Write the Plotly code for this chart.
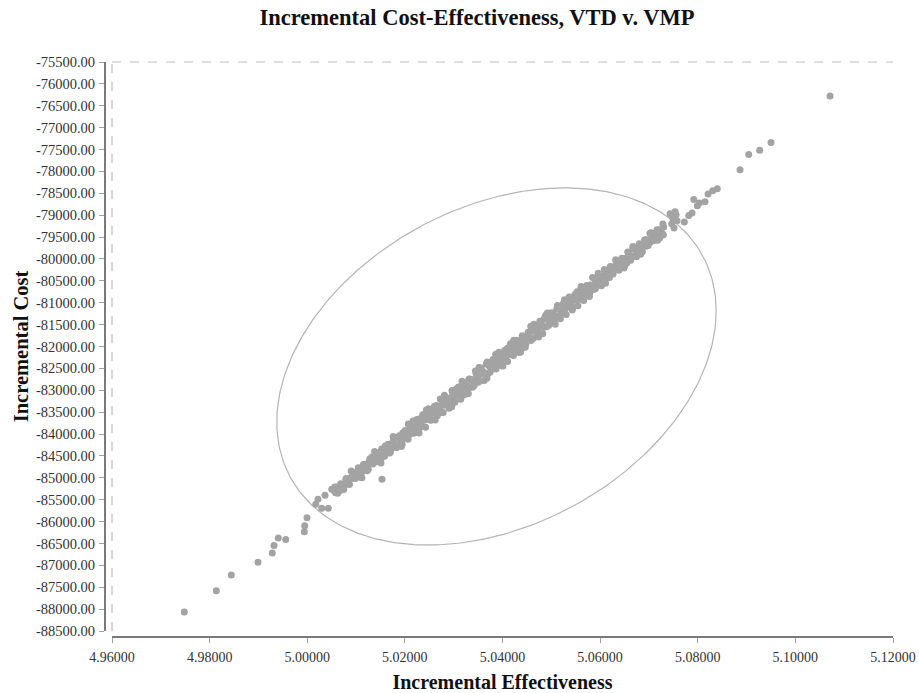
import numpy as np
import plotly.graph_objects as go

# ---------------- data ----------------
# sparse points below/left of the dense band
tail_low_eff = [4.97481, 4.98137, 4.98444, 4.98991, 4.99284, 4.99319, 4.99407, 4.99559,
                4.99940, 4.99948, 4.99995, 5.00173, 5.00220, 5.00296, 5.00431, 5.00364,
                5.00501, 5.01532, 5.02167]
tail_low_cost = [-88066, -87580, -87222, -86932, -86720, -86545, -86378, -86408,
                 -86234, -86097, -85915, -85603, -85488, -85694, -85694, -85397,
                 -85261, -85032, -83703]

# dense band of simulations (core)
band_eff = [
    5.0055, 5.0058, 5.0061, 5.0064, 5.0067, 5.0070, 5.0073, 5.0076, 5.0079, 5.0082,
    5.0085, 5.0088, 5.0091, 5.0094, 5.0097, 5.0100, 5.0103, 5.0106, 5.0109, 5.0112,
    5.0115, 5.0118, 5.0121, 5.0124, 5.0127, 5.0130, 5.0133, 5.0136, 5.0139, 5.0142,
    5.0145, 5.0148, 5.0151, 5.0154, 5.0157, 5.0160, 5.0163, 5.0166, 5.0169, 5.0172,
    5.0175, 5.0178, 5.0181, 5.0184, 5.0187, 5.0190, 5.0193, 5.0196, 5.0199, 5.0202,
    5.0205, 5.0208, 5.0211, 5.0214, 5.0217, 5.0220, 5.0223, 5.0226, 5.0229, 5.0232,
    5.0235, 5.0238, 5.0241, 5.0244, 5.0247, 5.0250, 5.0253, 5.0256, 5.0259, 5.0262,
    5.0265, 5.0268, 5.0271, 5.0274, 5.0277, 5.0280, 5.0283, 5.0286, 5.0289, 5.0292,
    5.0295, 5.0298, 5.0301, 5.0304, 5.0307, 5.0310, 5.0313, 5.0316, 5.0319, 5.0322,
    5.0325, 5.0328, 5.0331, 5.0334, 5.0337, 5.0340, 5.0343, 5.0346, 5.0349, 5.0352,
    5.0355, 5.0358, 5.0361, 5.0364, 5.0367, 5.0370, 5.0373, 5.0376, 5.0379, 5.0382,
    5.0385, 5.0388, 5.0391, 5.0394, 5.0397, 5.0400, 5.0403, 5.0406, 5.0409, 5.0412,
    5.0415, 5.0418, 5.0421, 5.0424, 5.0427, 5.0430, 5.0433, 5.0436, 5.0439, 5.0442,
    5.0445, 5.0448, 5.0451, 5.0454, 5.0457, 5.0460, 5.0463, 5.0466, 5.0469, 5.0472,
    5.0475, 5.0478, 5.0481, 5.0484, 5.0487, 5.0490, 5.0493, 5.0496, 5.0499, 5.0502,
    5.0505, 5.0508, 5.0511, 5.0514, 5.0517, 5.0520, 5.0523, 5.0526, 5.0529, 5.0532,
    5.0535, 5.0538, 5.0541, 5.0544, 5.0547, 5.0550, 5.0553, 5.0556, 5.0559, 5.0562,
    5.0565, 5.0568, 5.0571, 5.0574, 5.0577, 5.0580, 5.0583, 5.0586, 5.0589, 5.0592,
    5.0595, 5.0598, 5.0601, 5.0604, 5.0607, 5.0610, 5.0613, 5.0616, 5.0619, 5.0622,
    5.0625, 5.0628, 5.0631, 5.0634, 5.0637, 5.0640, 5.0643, 5.0646, 5.0649, 5.0652,
    5.0655, 5.0658, 5.0661, 5.0664, 5.0667, 5.0670, 5.0673, 5.0676, 5.0679, 5.0682,
    5.0685, 5.0688, 5.0691, 5.0694, 5.0697, 5.0700, 5.0703, 5.0706, 5.0709, 5.0712,
    5.0715, 5.0718, 5.0721, 5.0724, 5.0727, 5.0730]
band_cost = [
    -85298, -85341, -85210, -85260, -85289, -85150, -85159, -85195, -85028, -85114,
    -85127, -85009, -85014, -84904, -84990, -84872, -84989, -84857, -84807, -84842,
    -84704, -84821, -84739, -84816, -84621, -84674, -84520, -84653, -84554, -84632,
    -84506, -84416, -84570, -84399, -84453, -84273, -84436, -84328, -84436, -84221,
    -84307, -84230, -84084, -84267, -84090, -84133, -84167, -83970, -84073, -83977,
    -83950, -84023, -83847, -83930, -83983, -83796, -83820, -83883, -83656, -83790,
    -83813, -83666, -83680, -83543, -83666, -83519, -83683, -83516, -83459, -83513,
    -83346, -83499, -83403, -83506, -83269, -83342, -83156, -83329, -83212, -83316,
    -83168, -83071, -83245, -83058, -83121, -82924, -83108, -82991, -83114, -82878,
    -82971, -82894, -82748, -82931, -82754, -82797, -82831, -82634, -82737, -82641,
    -82784, -82567, -82581, -82634, -82397, -82620, -82454, -82487, -82350, -82484,
    -82347, -82420, -82244, -82327, -82380, -82193, -82217, -82280, -82053, -82187,
    -82100, -82003, -82177, -81990, -82053, -81856, -82040, -81923, -82046, -81810,
    -81942, -81795, -81809, -81672, -81795, -81648, -81812, -81645, -81588, -81642,
    -81715, -81498, -81512, -81565, -81328, -81551, -81385, -81418, -81281, -81415,
    -81368, -81291, -81145, -81328, -81151, -81194, -81228, -81031, -81134, -81038,
    -80941, -81094, -80998, -81101, -80864, -80937, -80751, -80924, -80807, -80911,
    -80748, -80811, -80650, -80722, -80767, -80596, -80615, -80669, -80462, -80580,
    -80499, -80412, -80557, -80393, -80443, -80271, -80424, -80320, -80421, -80216,
    -80326, -80196, -80205, -80084, -80185, -80055, -80191, -80045, -79992, -80035,
    -80086, -79907, -79913, -79950, -79755, -79928, -79790, -79811, -79696, -79798,
    -79755, -79688, -79566, -79707, -79560, -79589, -79611, -79448, -79525, -79443,
    -79420, -79463, -79332, -79382, -79411, -79272]

# dense band of simulations (outer spread)
band_edge_eff = [
    5.00565, 5.00625, 5.00685, 5.00745, 5.00805, 5.00865, 5.00925, 5.00985, 5.01045, 5.01105,
    5.01165, 5.01225, 5.01285, 5.01345, 5.01405, 5.01465, 5.01525, 5.01585, 5.01645, 5.01705,
    5.01765, 5.01825, 5.01885, 5.01945, 5.02005, 5.02065, 5.02125, 5.02185, 5.02245, 5.02305,
    5.02365, 5.02425, 5.02485, 5.02545, 5.02605, 5.02665, 5.02725, 5.02785, 5.02845, 5.02905,
    5.02965, 5.03025, 5.03085, 5.03145, 5.03205, 5.03265, 5.03325, 5.03385, 5.03445, 5.03505,
    5.03565, 5.03625, 5.03685, 5.03745, 5.03805, 5.03865, 5.03925, 5.03985, 5.04045, 5.04105,
    5.04165, 5.04225, 5.04285, 5.04345, 5.04405, 5.04465, 5.04525, 5.04585, 5.04645, 5.04705,
    5.04765, 5.04825, 5.04885, 5.04945, 5.05005, 5.05065, 5.05125, 5.05185, 5.05245, 5.05305,
    5.05365, 5.05425, 5.05485, 5.05545, 5.05605, 5.05665, 5.05725, 5.05785, 5.05845, 5.05905,
    5.05965, 5.06025, 5.06085, 5.06145, 5.06205, 5.06265, 5.06325, 5.06385, 5.06445, 5.06505,
    5.06565, 5.06625, 5.06685, 5.06745, 5.06805, 5.06865, 5.06925, 5.06985, 5.07045, 5.07105,
    5.07165, 5.07225, 5.07285]
band_edge_cost = [
    -85211, -85350, -85134, -85267, -85015, -85154, -84927, -85017, -84772, -84904,
    -84689, -84840, -84564, -84685, -84487, -84595, -84344, -84506, -84279, -84405,
    -84108, -84311, -84041, -84236, -83918, -84121, -83836, -83974, -83665, -83859,
    -83560, -83847, -83423, -83660, -83366, -83583, -83200, -83506, -83163, -83409,
    -83005, -83272, -82948, -83205, -82821, -83088, -82745, -82931, -82558, -82814,
    -82491, -82778, -82354, -82591, -82297, -82514, -82131, -82437, -82094, -82340,
    -81937, -82204, -81880, -82137, -81753, -82019, -81676, -81862, -81489, -81745,
    -81422, -81709, -81285, -81522, -81228, -81445, -81062, -81368, -81025, -81271,
    -80868, -81135, -80811, -81068, -80684, -80951, -80608, -80794, -80421, -80677,
    -80375, -80612, -80243, -80437, -80178, -80341, -80040, -80257, -79986, -80157,
    -79841, -80029, -79772, -79952, -79650, -79837, -79566, -79693, -79399, -79578,
    -79330, -79515, -79202]

# fringe points that make the band lumpy
band_fringe_eff = [
    5.0090, 5.0112, 5.0138, 5.0151, 5.0176, 5.0193, 5.0207, 5.0229, 5.0244, 5.0262,
    5.0281, 5.0296, 5.0317, 5.0330, 5.0352, 5.0368, 5.0386, 5.0401, 5.0423, 5.0437,
    5.0458, 5.0474, 5.0492, 5.0508, 5.0527, 5.0543, 5.0561, 5.0578, 5.0596, 5.0611,
    5.0632, 5.0649, 5.0667, 5.0683, 5.0702, 5.0718, 5.0125, 5.0165, 5.0218, 5.0253,
    5.0305, 5.0342, 5.0394, 5.0412, 5.0448, 5.0485, 5.0518, 5.0552, 5.0587, 5.0622]
band_fringe_cost = [
    -84844, -84998, -84397, -84661, -84058, -84287, -83772, -83976, -83452, -83682,
    -83113, -83379, -82792, -83076, -82480, -82728, -82177, -82444, -81858, -82123,
    -81536, -81784, -81233, -81490, -80931, -81168, -80628, -80857, -80327, -80553,
    -80016, -80205, -79714, -79892, -79413, -79570, -84802, -84236, -83774, -83672,
    -82979, -82889, -82416, -82026, -81945, -81375, -81311, -80788, -80697, -80175]

# sparse points above/right of the dense band
tail_high_eff = [5.07295, 5.07432, 5.07467, 5.07487, 5.07514, 5.07535, 5.07555, 5.07576,
                 5.07725, 5.07815, 5.07883, 5.07918, 5.07991, 5.08032, 5.08149, 5.08211,
                 5.08307, 5.08401, 5.08866, 5.09044, 5.09270, 5.09501, 5.10710]
tail_high_cost = [-79445, -78966, -79194, -79064, -79292, -78921, -78989, -79126,
                  -79156, -79005, -78950, -78640, -78784, -78722, -78693, -78517,
                  -78442, -78396, -77963, -77614, -77514, -77340, -76275]

# confidence ellipse (centre, half extents along each axis, correlation)
ell_center_eff = 5.03877
ell_center_cost = -82456
ell_half_eff = 0.04501
ell_half_cost = 4080
ell_rho = 0.311

# axes
x_tick_vals = [4.96, 4.98, 5.00, 5.02, 5.04, 5.06, 5.08, 5.10, 5.12]
x_tick_text = ["4.96000", "4.98000", "5.00000", "5.02000", "5.04000",
               "5.06000", "5.08000", "5.10000", "5.12000"]
y_tick_vals = [-75500, -76000, -76500, -77000, -77500, -78000, -78500, -79000, -79500,
               -80000, -80500, -81000, -81500, -82000, -82500, -83000, -83500, -84000,
               -84500, -85000, -85500, -86000, -86500, -87000, -87500, -88000, -88500]
y_tick_text = ["%.2f" % v for v in y_tick_vals]

title_text = "Incremental Cost-Effectiveness, VTD v. VMP"
x_title = "Incremental Effectiveness"
y_title = "Incremental Cost"

# ---------------- figure ----------------
eff = tail_low_eff + band_eff + band_edge_eff + band_fringe_eff + tail_high_eff
cost = tail_low_cost + band_cost + band_edge_cost + band_fringe_cost + tail_high_cost

t = np.linspace(0, 2 * np.pi, 361)
ell_x = ell_center_eff + ell_half_eff * np.cos(t)
ell_y = ell_center_cost + ell_half_cost * (ell_rho * np.cos(t) + np.sqrt(1 - ell_rho ** 2) * np.sin(t))

serif = "Liberation Serif, Times New Roman, serif"

fig = go.Figure()
fig.add_trace(go.Scatter(x=ell_x, y=ell_y, mode="lines",
                         line=dict(color="#b4b4b4", width=1.2), hoverinfo="skip",
                         showlegend=False))
fig.add_trace(go.Scatter(x=eff, y=cost, mode="markers",
                         marker=dict(color="#a3a3a3", size=7, line=dict(width=0)),
                         showlegend=False))

W, H = 919, 693
ml, mr, mt, mb = 105, 26, 62, 56
pw = W - ml - mr
ph = H - mt - mb

fig.update_layout(
    width=W, height=H,
    margin=dict(l=ml, r=mr, t=mt, b=mb, autoexpand=False),
    paper_bgcolor="white", plot_bgcolor="white",
    font=dict(family=serif, color="#333333", size=14),
    title=dict(text="<b>" + title_text + "</b>", x=477 / W, xref="container", xanchor="center",
               y=1 - 9 / H, yref="container", yanchor="top",
               font=dict(family=serif, size=22.5, color="#111111")),
    showlegend=False,
    xaxis=dict(range=[4.96, 5.12], domain=[7 / pw, 1], anchor="free", position=0,
               automargin=False,
               tickvals=x_tick_vals, ticktext=x_tick_text,
               showgrid=False, zeroline=False,
               showline=True, linecolor="#7a7a7a", linewidth=2,
               ticks="outside", ticklen=5, tickcolor="#a0a0a0", tickwidth=1,
               ticklabelstandoff=2,
               tickfont=dict(family=serif, size=14, color="#333333"),
               title=dict(text="<b>" + x_title + "</b>", standoff=10,
                          font=dict(family=serif, size=20, color="#111111"))),
    yaxis=dict(range=[-88500, -75500], domain=[6 / ph, 1], anchor="free", position=0,
               automargin=False,
               tickvals=y_tick_vals, ticktext=y_tick_text,
               showgrid=False, zeroline=False,
               showline=True, linecolor="#7a7a7a", linewidth=2,
               ticks="outside", ticklen=5, tickcolor="#a0a0a0", tickwidth=1,
               ticklabelstandoff=1,
               tickfont=dict(family=serif, size=14.5, color="#333333"),
               title=dict(text="<b>" + y_title + "</b>", standoff=1,
                          font=dict(family=serif, size=20.5, color="#111111"))),
)

# dashed frame lines (left and top edges of the plot area)
fig.add_shape(type="line", xref="x domain", yref="y domain", x0=0, x1=0, y0=0, y1=1,
              line=dict(color="#bdbdbd", width=1.2, dash="dash"))
fig.add_shape(type="line", xref="x domain", yref="y domain", x0=0, x1=1, y0=1, y1=1,
              line=dict(color="#bdbdbd", width=1.2, dash="dash"))

# remove the default page margin so the 919x693 figure fills the window exactly
fig.write_html("out.html", config={"displayModeBar": False},
               post_script="document.body.style.margin='0px';document.body.style.overflow='hidden';")
